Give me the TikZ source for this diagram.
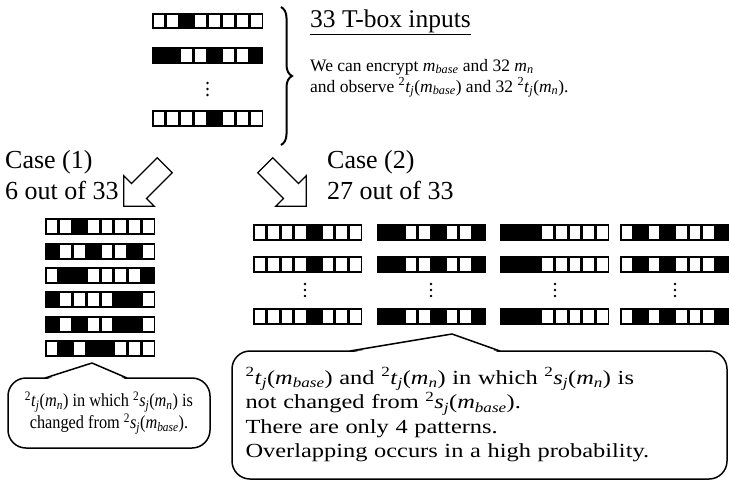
\documentclass[tikz,border=0pt]{standalone}
\usepackage{fontspec}
\setmainfont{Liberation Serif}
\newfontfamily\bubfontA[FakeStretch=0.88]{Liberation Serif}
\newfontfamily\bubfontB[FakeStretch=1.22]{Liberation Serif}
\usetikzlibrary{shapes.arrows,decorations.pathreplacing}
\newcommand\Tj{\textsuperscript{2}\textit{t}\textsubscript{\textit{j}}}
\newcommand\Sj{\textsuperscript{2}\textit{s}\textsubscript{\textit{j}}}
\newcommand\Mb{\textit{m}\textsubscript{\textit{base}}}
\newcommand\Mn{\textit{m}\textsubscript{\textit{n}}}
% bit row: x (left), y (top, positive downwards), width, height, pattern
\newcommand\bitrow[5]{%
  \fill (#1,-#2) rectangle ++(#3,-#4);
  \foreach \b [count=\i from 0] in {#5} {%
    \ifnum\b=0
      \fill[white] ({#1+\i*#3/8+1.5},{-#2-2}) rectangle ({#1+(\i+1)*#3/8-1.5},{-#2-#4+2});
    \fi
  }}
\newcommand\threedots[3]{% x, y centre, name
  \fill (#1,{-#2+6}) circle (1.4);
  \fill (#1,{-#2}) circle (1.4);
  \fill (#1,{-#2-6}) circle (1.4);
  \coordinate (#3) at (#1,-#2);}
\begin{document}
\begin{tikzpicture}[x=1pt,y=1pt,
  big/.style={font=\fontsize{26}{30}\selectfont, inner sep=0pt},
  small/.style={font=\fontsize{17.5}{20.5}\selectfont, inner sep=0pt, align=left},
  bubble/.style={draw, line width=1.5pt, rounded corners=18pt, fill=white, inner sep=0pt},
  barrow/.style={single arrow, draw, line width=1.3pt, fill=white, inner sep=10pt,
     minimum height=58pt, single arrow head extend=11pt}]
\useasboundingbox (0,0) rectangle (730,-482);

% ---- top group ----
\bitrow{152}{13}{111}{16}{0,0,1,0,0,0,0,0}
\bitrow{152}{47}{111}{17}{1,1,0,0,1,0,0,1}
\threedots{207.5}{89}{td}
\bitrow{152}{110}{111}{17}{0,0,0,0,1,0,0,0}

\draw[line width=2pt, decorate, decoration={brace, amplitude=11pt}]
  (281,-7) -- (281,-145);

\node[big, anchor=base west, font=\fontsize{25.5}{30}\selectfont] (title) at (310,-27) {\underline{33 T-box inputs}};
\node[small, anchor=base west] (desc1) at (310,-71) {We can encrypt \Mb{} and 32 \Mn};
\node[small, anchor=base west] (desc2) at (310,-92) {and observe \Tj(\Mb) and 32 \Tj(\Mn).};

% ---- cases ----
\node[big, anchor=base west] (c1a) at (5,-168) {Case (1)};
\node[big, anchor=base west] (c1b) at (5,-199) {6 out of 33};
\node[big, anchor=base west] (c2a) at (327,-168) {Case (2)};
\node[big, anchor=base west] (c2b) at (327,-199) {27 out of 33};

\node[barrow, rotate=225] (a1) at (148,-182) {};
\node[barrow, rotate=-45] (a2) at (282,-182) {};

% case 1 stack
\bitrow{45}{218}{110}{17}{0,0,1,0,0,0,0,0}
\bitrow{45}{242.5}{110}{17}{1,0,0,1,0,0,1,0}
\bitrow{45}{267}{110}{17}{0,1,1,0,0,0,0,1}
\bitrow{45}{291}{110}{17}{1,0,0,0,0,1,1,0}
\bitrow{45}{315.5}{110}{17}{1,0,1,0,0,1,1,0}
\bitrow{45}{340}{110}{17}{0,1,0,1,1,0,0,0}

% case 2 grid
\foreach \y in {224,256,308}{
  \bitrow{253}{\y}{109}{17}{0,0,0,0,1,0,0,0}
  \bitrow{377}{\y}{109}{17}{1,1,0,0,1,0,0,1}
  \bitrow{500}{\y}{109}{17}{1,1,1,0,0,0,0,0}
  \bitrow{620}{\y}{109}{17}{0,1,0,1,0,0,0,1}
}
\threedots{305}{290}{d1}
\threedots{431}{290}{d2}
\threedots{555}{290}{d3}
\threedots{675}{290}{d4}

% ---- bubbles ----
\node[bubble, font=\bubfontA\fontsize{18.5}{22}\selectfont, minimum width=202pt, minimum height=70pt, align=center]
  (b1) at (109,-413) {\Tj(\Mn) in which \Sj(\Mn) is\\changed from \Sj(\Mb).};
\coordinate (t1) at (92,-363);
\fill[white] (46,-379.5) -- (t1) -- (126,-379.5) -- cycle;
\draw[line width=1.5pt, line join=round] (45,-378) -- (t1) -- (127,-378);

\node[bubble, font=\bubfontB\fontsize{20}{24.5}\selectfont, minimum width=495pt, minimum height=128pt, text width=468pt, align=left]
  (b2) at (479.5,-415) {\Tj(\Mb) and \Tj(\Mn) in which \Sj(\Mn) is\\not changed from \Sj(\Mb).\\There are only 4 patterns.\\Overlapping occurs in a high probability.};
\coordinate (t2) at (452,-334);
\fill[white] (351,-352.5) -- (t2) -- (499,-352.5) -- cycle;
\draw[line width=1.5pt, line join=round] (350,-351) -- (t2) -- (500,-351);
\end{tikzpicture}
\end{document}
